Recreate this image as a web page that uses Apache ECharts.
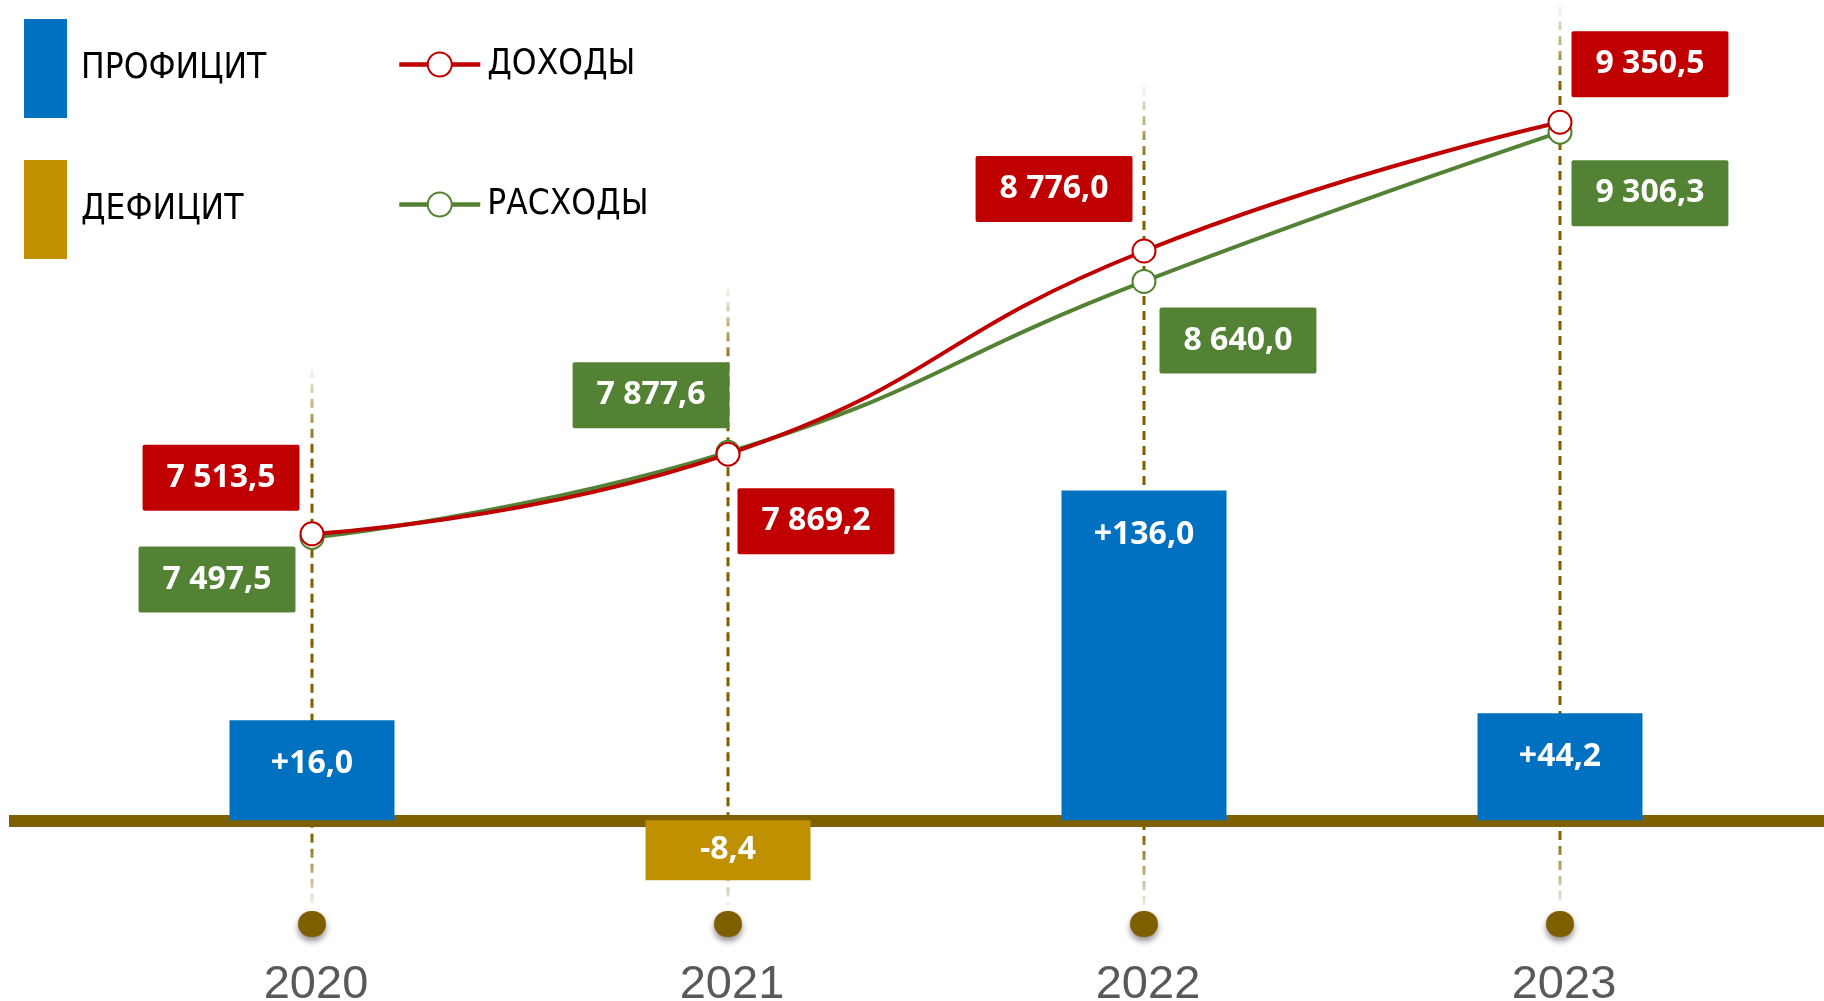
<!DOCTYPE html>
<html>
<head>
<meta charset="utf-8">
<title>Доходы и расходы 2020-2023</title>
<script src="https://cdn.jsdelivr.net/npm/echarts@6/dist/echarts.min.js"></script>
<style>
  html, body { margin: 0; padding: 0; background: #fff; }
  #chart { width: 1824px; height: 1001px; }
</style>
</head>
<body>
<div id="chart"></div>
<script>
// данные
var years = ["2020", "2021", "2022", "2023"];
var incomes = [7513.5, 7869.2, 8776.0, 9350.5];   // доходы
var expenses = [7497.5, 7877.6, 8640.0, 9306.3];  // расходы
var balance = [16.0, -8.4, 136.0, 44.2];          // профицит / дефицит

// раскладка подписей у точек (только оформление)
var incomeLabelLayout = [
  { position: "left", distance: 0, offset: [0, -56] },
  { position: "right", distance: -3, offset: [0, 67] },
  { position: "left", distance: -1, offset: [0, -62] },
  { position: "right", distance: -1, offset: [0, -58] }
];
var expenseLabelLayout = [
  { position: "left", distance: 4, offset: [0, 42] },
  { position: "left", distance: -14, offset: [0, -57] },
  { position: "right", distance: 3, offset: [0, 59] },
  { position: "right", distance: -1, offset: [0, 61] }
];

var RED = "#C00000", GREEN = "#548235", BLUE = "#0070C0", GOLD = "#BF9000", BROWN = "#7F6000";
var LABEL_FONT = "'Open Sans', 'DejaVu Sans', sans-serif";
var LEGEND_FONT = "'DejaVu Sans Condensed', 'Liberation Sans', sans-serif";

// 7513.5 -> "7 513,5"
function fmt(v) {
  var parts = Math.abs(v).toFixed(1).split(".");
  var whole = parts[0].replace(/\B(?=(\d{3})+(?!\d))/g, " ");
  return (v < 0 ? "-" : "") + whole + "," + parts[1];
}

var surplus = balance.map(function (v) { return v >= 0 ? v : null; });
var deficit = balance.map(function (v) { return v < 0 ? v : null; });

var chart = echarts.init(document.getElementById("chart"));

var pointLabel = function (color) {
  return {
    show: true,
    formatter: function (p) { return fmt(p.value); },
    backgroundColor: color,
    color: "#fff",
    fontSize: 32,
    fontWeight: "bold",
    fontFamily: LABEL_FONT,
    padding: [17, 24],
    borderRadius: 2
  };
};

var barLabel = {
  show: true,
  color: "#fff",
  fontSize: 32,
  fontWeight: "bold",
  fontFamily: LABEL_FONT,
  formatter: function (p) { return (p.value > 0 ? "+" : "") + fmt(p.value); }
};

var option = {
  animation: false,
  backgroundColor: "#fff",
  legend: [
    {
      data: ["ПРОФИЦИТ", "ДЕФИЦИТ"],
      orient: "vertical",
      left: 19,
      top: 14,
      icon: "rect",
      itemWidth: 43,
      itemHeight: 99,
      itemGap: 42,
      selectedMode: false,
      textStyle: { fontSize: 35, color: "#000", fontFamily: LEGEND_FONT, padding: [0, 0, 0, 9] }
    },
    {
      data: ["ДОХОДЫ", "РАСХОДЫ"],
      orient: "vertical",
      left: 392,
      top: 42,
      itemWidth: 81,
      itemHeight: 30,
      itemGap: 105,
      selectedMode: false,
      lineStyle: { width: 4.5 },
      textStyle: { fontSize: 35, color: "#000", fontFamily: LEGEND_FONT, padding: [0, 0, 0, 2] }
    }
  ],
  grid: [
    { left: 104, right: 56, top: 20, bottom: 120, outerBoundsMode: "none" },
    { left: 9, right: 0, top: 20, bottom: 120, outerBoundsMode: "none" }
  ],
  xAxis: [
    {
      type: "category",
      gridIndex: 0,
      data: years,
      axisLine: { show: false },
      axisTick: { show: false },
      axisLabel: {
        interval: 0,
        margin: 30,
        formatter: function (v) { return "{dot| }\n{yr|" + v + "}"; },
        rich: {
          dot: {
            width: 28, height: 26, borderRadius: 14, backgroundColor: BROWN,
            shadowBlur: 6, shadowColor: "rgba(0,0,0,0.45)", shadowOffsetY: 4
          },
          yr: {
            fontSize: 47, color: "#595959", fontFamily: "'Liberation Sans', Arial, sans-serif",
            lineHeight: 96, padding: [0, 0, 0, 8]
          }
        }
      }
    },
    {
      type: "category",
      gridIndex: 1,
      data: [""],
      axisLine: { onZero: true, lineStyle: { color: BROWN, width: 12, cap: "butt" } },
      axisTick: { show: false },
      axisLabel: { show: false }
    }
  ],
  yAxis: [
    { type: "value", gridIndex: 0, min: -25, max: 330, show: false },
    { type: "value", gridIndex: 0, min: 5964, max: 9807, show: false },
    { type: "value", gridIndex: 1, min: -25, max: 330, show: false }
  ],
  series: [
    {
      // пунктирные направляющие от года к подписям
      type: "custom",
      xAxisIndex: 0,
      yAxisIndex: 1,
      silent: true,
      z: 1,
      data: years.map(function (y, i) { return [i, Math.max(incomes[i], expenses[i])]; }),
      encode: { x: 0, y: 1 },
      renderItem: function (params, api) {
        var p = api.coord([api.value(0), api.value(1)]);
        var top = Math.max(6, p[1] - 165);
        var bottom = params.coordSys.y + params.coordSys.height + 24;
        var h = bottom - top;
        var f = function (y) { return Math.min(1, Math.max(0, (y - top) / h)); };
        return {
          type: "line",
          shape: { x1: p[0], y1: top, x2: p[0], y2: bottom },
          style: {
            lineWidth: 3,
            lineDash: [9, 6],
            stroke: new echarts.graphic.LinearGradient(0, top, 0, bottom, [
              { offset: 0, color: "rgba(127,96,0,0.05)" },
              { offset: f(top + 80), color: "rgba(127,96,0,1)" },
              { offset: f(bottom - 70), color: "rgba(127,96,0,1)" },
              { offset: 1, color: "rgba(127,96,0,0.1)" }
            ], true)
          }
        };
      }
    },
    {
      name: "ПРОФИЦИТ",
      type: "bar",
      stack: "balance",
      barWidth: 165,
      barMinHeight: 100,
      z: 3,
      itemStyle: { color: BLUE },
      label: Object.assign({ position: "insideTop", distance: 28 }, barLabel),
      data: surplus
    },
    {
      name: "ДЕФИЦИТ",
      type: "bar",
      stack: "balance",
      barWidth: 165,
      barMinHeight: 60,
      z: 3,
      itemStyle: { color: GOLD },
      label: Object.assign({ position: "inside" }, barLabel),
      data: deficit
    },
    {
      name: "ДОХОДЫ",
      type: "line",
      yAxisIndex: 1,
      smooth: true,
      z: 6,
      symbol: "emptyCircle",
      symbolSize: 23,
      lineStyle: { color: RED, width: 4 },
      itemStyle: { color: RED, borderWidth: 4 },
      label: pointLabel(RED),
      data: incomes.map(function (v, i) { return { value: v, label: incomeLabelLayout[i] }; })
    },
    {
      name: "РАСХОДЫ",
      type: "line",
      yAxisIndex: 1,
      smooth: true,
      z: 5,
      symbol: "emptyCircle",
      symbolSize: 23,
      lineStyle: { color: GREEN, width: 4 },
      itemStyle: { color: GREEN, borderWidth: 4 },
      label: pointLabel(GREEN),
      data: expenses.map(function (v, i) { return { value: v, label: expenseLabelLayout[i] }; })
    }
  ]
};

chart.setOption(option);
</script>
</body>
</html>
